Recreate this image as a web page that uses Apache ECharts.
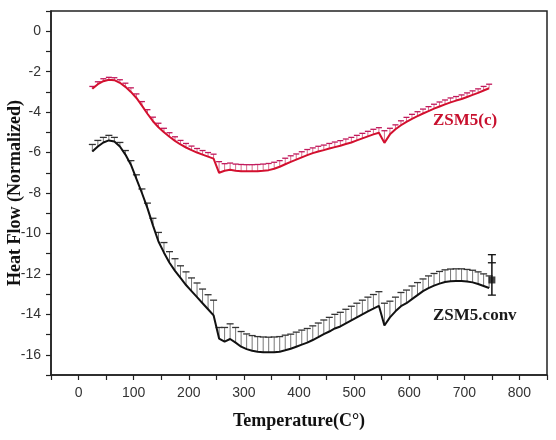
<!DOCTYPE html>
<html>
<head>
<meta charset="utf-8">
<script src="https://cdn.jsdelivr.net/npm/echarts@6/dist/echarts.min.js"></script>
<style>
html, body { margin: 0; padding: 0; background: #fff; }
#chart { width: 556px; height: 440px; }
</style>
</head>
<body>
<div id="chart"></div>
<script>
// temperature of each reading (C)
var temps = [25, 35, 45, 55, 65, 75, 85, 95, 105, 115, 125, 135, 145, 155, 165, 175, 185, 195,
    205, 215, 225, 235, 245, 255, 265, 275, 285, 295, 305, 315, 325, 335, 345, 355, 365, 375,
    385, 395, 405, 415, 425, 435, 445, 455, 465, 475, 485, 495, 505, 515, 525, 535, 545, 555,
    565, 575, 585, 595, 605, 615, 625, 635, 645, 655, 665, 675, 685, 695, 705, 715, 725, 735, 745];

// ZSM5(c) heat flow and its upper error
var redFlow = [-2.85, -2.62, -2.47, -2.40, -2.42, -2.55, -2.75, -3.00, -3.30, -3.68, -4.08, -4.45,
    -4.75, -5.00, -5.22, -5.42, -5.60, -5.75, -5.88, -6.00, -6.10, -6.20, -6.30, -7.00, -6.90,
    -6.85, -6.90, -6.92, -6.93, -6.93, -6.92, -6.90, -6.87, -6.80, -6.70, -6.58, -6.46, -6.35,
    -6.24, -6.13, -6.03, -5.95, -5.88, -5.80, -5.73, -5.66, -5.58, -5.50, -5.40, -5.30, -5.20,
    -5.10, -5.02, -5.52, -5.10, -4.85, -4.65, -4.48, -4.33, -4.20, -4.07, -3.95, -3.83, -3.72,
    -3.62, -3.52, -3.43, -3.35, -3.25, -3.15, -3.05, -2.93, -2.82];
var redErr = [0.12, 0.12, 0.12, 0.12, 0.12, 0.15, 0.18, 0.2, 0.2, 0.2, 0.2, 0.2, 0.2, 0.2, 0.2,
    0.2, 0.2, 0.2, 0.2, 0.2, 0.2, 0.2, 0.22, 0.55, 0.35, 0.33, 0.33, 0.33, 0.33, 0.33, 0.33,
    0.33, 0.33, 0.32, 0.3, 0.3, 0.3, 0.28, 0.28, 0.28, 0.26, 0.26, 0.25, 0.25, 0.25, 0.25, 0.25,
    0.25, 0.25, 0.25, 0.25, 0.25, 0.25, 0.6, 0.3, 0.22, 0.22, 0.22, 0.22, 0.22, 0.22, 0.22, 0.22,
    0.22, 0.22, 0.22, 0.2, 0.2, 0.2, 0.2, 0.2, 0.2, 0.2];

// ZSM5.conv heat flow and its upper error
var blackFlow = [-5.95, -5.70, -5.50, -5.40, -5.45, -5.70, -6.10, -6.60, -7.30, -8.00, -8.75, -9.60,
    -10.40, -10.95, -11.45, -11.85, -12.20, -12.55, -12.85, -13.15, -13.45, -13.75, -14.05,
    -15.20, -15.35, -15.22, -15.40, -15.60, -15.72, -15.80, -15.85, -15.87, -15.88, -15.87,
    -15.85, -15.78, -15.70, -15.60, -15.50, -15.40, -15.27, -15.13, -14.98, -14.85, -14.70,
    -14.60, -14.45, -14.30, -14.15, -14.00, -13.85, -13.72, -13.58, -14.55, -14.15, -13.85,
    -13.60, -13.45, -13.25, -13.05, -12.85, -12.70, -12.58, -12.48, -12.40, -12.36, -12.35,
    -12.35, -12.38, -12.42, -12.50, -12.60, -12.70];
var blackErr = [0.35, 0.3, 0.25, 0.25, 0.2, 0.2, 0.2, 0.2, 0.2, 0.2, 0.25, 0.35, 0.45, 0.5, 0.55,
    0.6, 0.6, 0.65, 0.65, 0.7, 0.7, 0.72, 0.75, 0.55, 0.7, 0.75, 0.75, 0.75, 0.75, 0.75, 0.75,
    0.75, 0.75, 0.75, 0.75, 0.75, 0.72, 0.72, 0.72, 0.7, 0.7, 0.7, 0.7, 0.7, 0.7, 0.7, 0.7,
    0.7, 0.7, 0.7, 0.7, 0.7, 0.7, 1.1, 0.8, 0.7, 0.68, 0.65, 0.65, 0.62, 0.6, 0.6, 0.6, 0.6,
    0.6, 0.6, 0.6, 0.6, 0.6, 0.6, 0.6, 0.6, 0.6];

// last ZSM5.conv point with its wide error bar
var endTemp = [750];
var endFlow = [-12.3];
var endCaps = [-11.05, -11.45, -13.05];

var xLabels = [0, 100, 200, 300, 400, 500, 600, 700, 800];
var yLabels = [0, -2, -4, -6, -8, -10, -12, -14, -16];

var chart = echarts.init(document.getElementById('chart'));

function pairs(xs, ys) {
    var out = [];
    for (var i = 0; i < xs.length; i++) out.push([xs[i], ys[i]]);
    return out;
}
function triples(xs, ys, es) {
    var out = [];
    for (var i = 0; i < xs.length; i++) out.push([xs[i], ys[i], es[i]]);
    return out;
}

// upper error bar: stem from the value up to value+err, cap on top
function errorBar(capColor, stemColor, capW) {
    return function (params, api) {
        var p0 = api.coord([api.value(0), api.value(1)]);
        var p1 = api.coord([api.value(0), api.value(1) + api.value(2)]);
        return {
            type: 'group',
            children: [
                { type: 'line', shape: { x1: p0[0], y1: p0[1], x2: p1[0], y2: p1[1] },
                  style: { stroke: stemColor, lineWidth: 1 } },
                { type: 'line', shape: { x1: p1[0] - capW / 2, y1: p1[1], x2: p1[0] + capW / 2, y2: p1[1] },
                  style: { stroke: capColor, lineWidth: 1.3 } }
            ]
        };
    };
}

var endData = [];
for (var i = 0; i < endCaps.length; i++) endData.push([endTemp[0], endCaps[i]]);

var labelFont = { fontFamily: 'Liberation Sans', fontSize: 14, color: '#333' };
var nameFont = { fontFamily: 'Liberation Serif', fontWeight: 'bold', fontSize: 18, color: '#111' };

chart.setOption({
    animation: false,
    backgroundColor: '#fff',
    grid: {
        left: 51, right: 9, top: 11, bottom: 65,
        outerBoundsMode: 'none',
        containLabel: false,
        show: true, borderColor: '#222', borderWidth: 1.5
    },
    xAxis: {
        type: 'value',
        min: -50, max: 850, interval: 50,
        name: 'Temperature(C°)',
        nameLocation: 'middle',
        nameGap: 37,
        nameMoveOverlap: false,
        nameTextStyle: nameFont,
        axisLine: { onZero: false, lineStyle: { color: '#222', width: 1.5 } },
        axisTick: { length: 5, lineStyle: { color: '#222', width: 1.2 } },
        axisLabel: Object.assign({
            margin: 11,
            formatter: function (v) { return xLabels.indexOf(v) >= 0 ? String(v) : ''; }
        }, labelFont),
        splitLine: { show: false }
    },
    yAxis: {
        type: 'value',
        min: -17, max: 1, interval: 1,
        name: 'Heat Flow (Normalized)',
        nameLocation: 'middle',
        nameGap: 27,
        nameMoveOverlap: false,
        nameTextStyle: nameFont,
        axisLine: { onZero: false, lineStyle: { color: '#222', width: 1.5 } },
        axisTick: { length: 5, lineStyle: { color: '#222', width: 1.2 } },
        axisLabel: Object.assign({
            margin: 10,
            formatter: function (v) { return yLabels.indexOf(v) >= 0 ? String(v) : ''; }
        }, labelFont),
        splitLine: { show: false }
    },
    series: [
        {
            type: 'custom',
            renderItem: errorBar('#c2185b', '#d7708f', 6),
            encode: { x: 0, y: 1 },
            data: triples(temps, redFlow, redErr),
            z: 2
        },
        {
            type: 'custom',
            renderItem: errorBar('#333', '#777', 7),
            encode: { x: 0, y: 1 },
            data: triples(temps, blackFlow, blackErr),
            z: 2
        },
        {
            type: 'line',
            data: pairs(temps, redFlow),
            showSymbol: false,
            lineStyle: { color: '#d3102f', width: 2 },
            z: 3
        },
        {
            type: 'line',
            data: pairs(temps, blackFlow),
            showSymbol: false,
            lineStyle: { color: '#111', width: 2 },
            z: 3
        },
        {
            // end point stem and caps
            type: 'custom',
            renderItem: function (params, api) {
                var p = api.coord([api.value(0), api.value(1)]);
                var lo = api.coord([endTemp[0], Math.min.apply(null, endCaps)]);
                var hi = api.coord([endTemp[0], Math.max.apply(null, endCaps)]);
                var kids = [{ type: 'line', shape: { x1: p[0] - 4, y1: p[1], x2: p[0] + 4, y2: p[1] },
                              style: { stroke: '#111', lineWidth: 1.3 } }];
                if (params.dataIndex === 0) {
                    kids.push({ type: 'line', shape: { x1: lo[0], y1: lo[1], x2: hi[0], y2: hi[1] },
                                style: { stroke: '#111', lineWidth: 1.5 } });
                }
                return { type: 'group', children: kids };
            },
            encode: { x: 0, y: 1 },
            data: endData,
            z: 4
        },
        {
            type: 'scatter',
            data: pairs(endTemp, endFlow),
            symbol: 'rect',
            symbolSize: 7,
            itemStyle: { color: '#111' },
            z: 5
        }
    ],
    graphic: [
        {
            type: 'text', left: 433, top: 112,
            style: { text: 'ZSM5(c)', fill: '#c8102e', font: 'bold 17px "Liberation Serif"' }
        },
        {
            type: 'text', left: 433, top: 307,
            style: { text: 'ZSM5.conv', fill: '#1a1a1a', font: 'bold 17px "Liberation Serif"' }
        }
    ]
});
</script>
</body>
</html>
